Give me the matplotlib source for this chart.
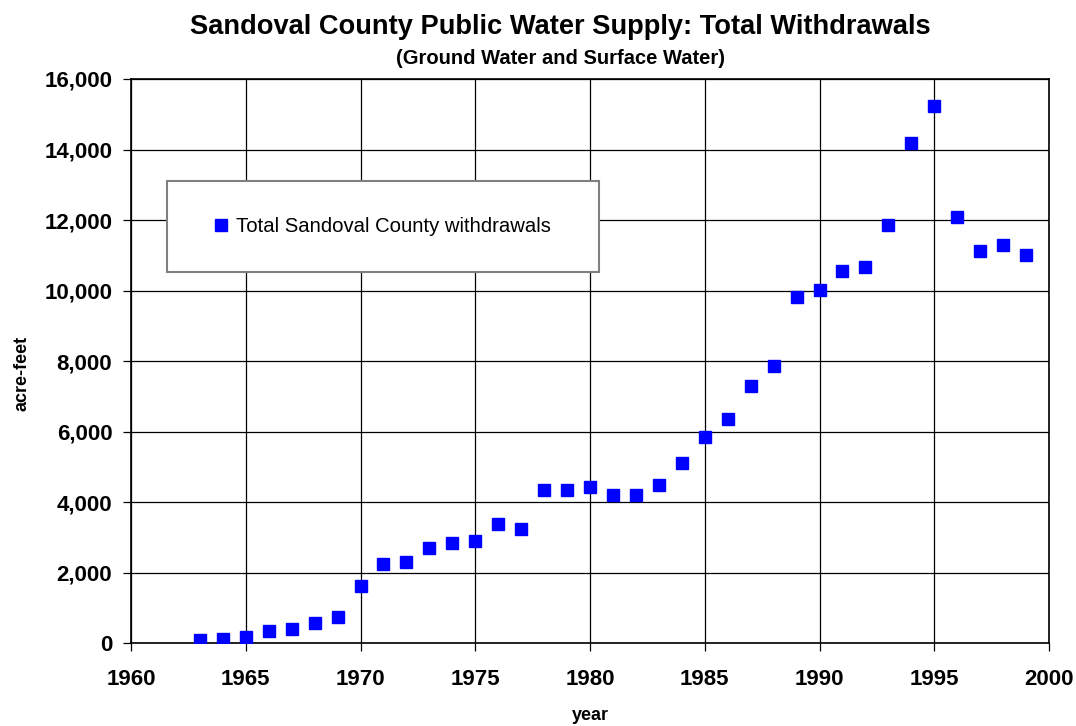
import matplotlib
matplotlib.use('Agg')
import matplotlib.pyplot as plt
from matplotlib.ticker import FuncFormatter
from matplotlib.patches import Rectangle

# Datos
years = list(range(1963, 2000))
withdrawals = [
    95, 120, 170, 355, 405, 575, 755,             # 1963-1969
    1620, 2255, 2310, 2690, 2850, 2890, 3390, 3240,  # 1970-1977
    4335, 4350, 4420, 4200, 4200, 4485, 5100,     # 1978-1984
    5855, 6355, 7300, 7850, 9820, 10020, 10555,   # 1985-1991
    10670, 11860, 14195, 15225, 12080, 11120, 11285, 11000  # 1992-1999
]

TITLE = 'Sandoval County Public Water Supply: Total Withdrawals'
SUBTITLE = '(Ground Water and Surface Water)'
SERIES_LABEL = 'Total Sandoval County withdrawals'
COLOR_PUNTOS = '#0000FF'

plt.rcParams['font.family'] = ['Liberation Sans', 'DejaVu Sans']

fig = plt.figure(figsize=(10.76, 7.26), dpi=100)
ax = fig.add_axes([131 / 1076, 1 - 643.3 / 726, 918 / 1076, 564.3 / 726])

ax.plot(years, withdrawals, linestyle='none', marker='s', markersize=8.7,
        color=COLOR_PUNTOS, markeredgecolor=COLOR_PUNTOS, label=SERIES_LABEL,
        zorder=3)

ax.set_xlim(1960, 2000)
ax.set_ylim(0, 16000)
ax.set_xticks(range(1960, 2001, 5))
ax.set_yticks(range(0, 16001, 2000))
ax.yaxis.set_major_formatter(FuncFormatter(lambda v, p: f'{int(v):,}'))

ax.grid(True, color='black', linewidth=0.9)
ax.set_axisbelow(True)
for s in ax.spines.values():
    s.set_color('black')
    s.set_linewidth(1.2)

ax.tick_params(axis='both', direction='out', length=5.5, width=0.9, labelsize=16)
ax.tick_params(axis='x', pad=13)
ax.tick_params(axis='y', pad=8)
for lbl in ax.get_xticklabels() + ax.get_yticklabels():
    lbl.set_fontweight('bold')

ax.set_xlabel('year', fontsize=13, fontweight='bold')
ax.set_ylabel('acre-feet', fontsize=13, fontweight='bold')
ax.xaxis.set_label_coords(0.5, -0.112)
ax.yaxis.set_label_coords(-0.109, 0.478)

# Caja de la leyenda
lx0, ly0, lw, lh = 0.0392, 0.658, 0.4702, 0.1610
ax.add_patch(Rectangle((lx0, ly0), lw, lh, transform=ax.transAxes,
                       facecolor='white', edgecolor='#808080', linewidth=1.5,
                       zorder=4))
leg = ax.legend(loc='center', bbox_to_anchor=(lx0, ly0, lw, lh),
                frameon=False, fontsize=14.6, handlelength=0.6,
                handletextpad=0.4, markerscale=1.0)
leg.set_zorder(5)

fig.text(0.521, 1 - 27 / 726, TITLE, ha='center', va='center',
         fontsize=19.6, fontweight='bold')
fig.text(0.521, 1 - 58 / 726, SUBTITLE, ha='center', va='center',
         fontsize=14.5, fontweight='bold')

fig.savefig('out.png', dpi=100)
